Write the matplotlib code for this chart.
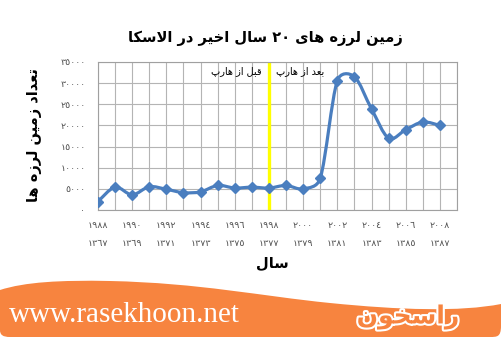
import re
import numpy as np
import matplotlib
matplotlib.use("Agg")
import matplotlib.pyplot as plt
from matplotlib.path import Path
from matplotlib.patches import PathPatch
import matplotlib.patheffects as pe

# data
years = list(range(1988, 2009))
quakes = [2000, 5400, 3600, 5500, 4900, 4100, 4300, 5800, 5200, 5400,
          5200, 5800, 5000, 7500, 30600, 31500, 23900, 17000, 19000, 20800, 20000]
harp_year = 1998
label_years = [1988, 1990, 1992, 1994, 1996, 1998, 2000, 2002, 2004, 2006, 2008]
solar_years = [1367, 1369, 1371, 1373, 1375, 1377, 1379, 1381, 1383, 1385, 1387]
y_ticks = [0, 5000, 10000, 15000, 20000, 25000, 30000, 35000]

title = "زمین لرزه های ۲۰ سال اخیر در الاسکا"
ylabel = "تعداد زمین لرزه ها"
xlabel = "سال"
before_txt = "قبل از هارپ"
after_txt = "بعد از هارپ"
logo_txt = "راسخون"
url_txt = "www.rasekhoon.net"

blue = '#4a7ebf'
orange = '#f7843f'

# matplotlib has no arabic shaping, so pick presentation forms by hand
FORMS = {
    'ا': ('\uFE8D', '\uFE8E', None, None),
    'ب': ('\uFE8F', '\uFE90', '\uFE91', '\uFE92'),
    'ت': ('\uFE95', '\uFE96', '\uFE97', '\uFE98'),
    'خ': ('\uFEA5', '\uFEA6', '\uFEA7', '\uFEA8'),
    'د': ('\uFEA9', '\uFEAA', None, None),
    'ر': ('\uFEAD', '\uFEAE', None, None),
    'ز': ('\uFEAF', '\uFEB0', None, None),
    'س': ('\uFEB1', '\uFEB2', '\uFEB3', '\uFEB4'),
    'ع': ('\uFEC9', '\uFECA', '\uFECB', '\uFECC'),
    'ق': ('\uFED5', '\uFED6', '\uFED7', '\uFED8'),
    'ل': ('\uFEDD', '\uFEDE', '\uFEDF', '\uFEE0'),
    'م': ('\uFEE1', '\uFEE2', '\uFEE3', '\uFEE4'),
    'ن': ('\uFEE5', '\uFEE6', '\uFEE7', '\uFEE8'),
    'ه': ('\uFEE9', '\uFEEA', '\uFEEB', '\uFEEC'),
    'و': ('\uFEED', '\uFEEE', None, None),
    'پ': ('\uFB56', '\uFB57', '\uFB58', '\uFB59'),
    'ک': ('\uFB8E', '\uFB8F', '\uFB90', '\uFB91'),
    'ی': ('\uFBFC', '\uFBFD', '\uFBFE', '\uFBFF'),
}


def shape(text):
    chars = []
    i = 0
    while i < len(text):
        if text[i] == 'ل' and i + 1 < len(text) and text[i + 1] == 'ا':
            chars.append('LA')
            i += 2
        else:
            chars.append(text[i])
            i += 1

    def dual(c):
        return c in FORMS and FORMS[c][2] is not None

    out = []
    for k, c in enumerate(chars):
        prev = chars[k - 1] if k > 0 else ''
        nxt = chars[k + 1] if k + 1 < len(chars) else ''
        jp = dual(prev)
        if c == 'LA':
            out.append('\uFEFC' if jp else '\uFEFB')
            continue
        if c not in FORMS:
            out.append(c)
            continue
        jn = dual(c) and (nxt in FORMS or nxt == 'LA')
        iso, fin, ini, med = FORMS[c]
        if jp and jn:
            out.append(med)
        elif jp:
            out.append(fin)
        elif jn:
            out.append(ini)
        else:
            out.append(iso)
    runs = re.findall(r'[0-9\u0660-\u0669\u06F0-\u06F9]+|.', ''.join(out))
    return ''.join(runs[::-1])


def ar_digits(n):
    return str(n).translate(str.maketrans('0123456789', '٠١٢٣٤٥٦٧٨٩'))


plt.rcParams['font.family'] = ['DejaVu Sans']

fig = plt.figure(figsize=(5.01, 3.37), dpi=100)
fig.patch.set_facecolor('white')

# background layer in pixel coords for the banner
bg = fig.add_axes([0, 0, 1, 1], zorder=-1)
bg.set_xlim(0, 501)
bg.set_ylim(337, 0)
bg.axis('off')

verts = [(0, 330), (0, 290),
         (25, 282), (60, 280), (110, 281),
         (200, 283), (260, 296), (330, 303),
         (400, 310), (460, 312), (501, 304),
         (501, 326),
         (501, 337), (497, 337), (490, 337),
         (10, 337),
         (3, 337), (0, 335), (0, 330)]
codes = [Path.MOVETO, Path.LINETO,
         Path.CURVE4, Path.CURVE4, Path.CURVE4,
         Path.CURVE4, Path.CURVE4, Path.CURVE4,
         Path.CURVE4, Path.CURVE4, Path.CURVE4,
         Path.LINETO,
         Path.CURVE4, Path.CURVE4, Path.CURVE4,
         Path.LINETO,
         Path.CURVE4, Path.CURVE4, Path.CURVE4]
bg.add_patch(PathPatch(Path(verts, codes), facecolor=orange, edgecolor='none'))

bg.text(9, 322, url_txt, color='white', fontsize=21, family='Liberation Serif',
        ha='left', va='baseline')
bg.text(408, 317, shape(logo_txt), color=orange, fontsize=18, fontweight='bold',
        ha='center', va='center',
        path_effects=[pe.withStroke(linewidth=3, foreground='white')])

# main chart
ax = fig.add_axes([98 / 501, 1 - 210 / 337, (457 - 98) / 501, 148 / 337])
ax.set_xlim(1988, 2009)
ax.set_ylim(0, 35000)

ax.set_xticks(range(1988, 2010))
xlabels = []
for yr in range(1988, 2010):
    if yr in label_years:
        j = label_years.index(yr)
        xlabels.append(ar_digits(yr) + '\n' + ar_digits(solar_years[j]))
    else:
        xlabels.append('')
ax.set_xticklabels(xlabels, fontsize=6.8, color='#505050', linespacing=2.3)
ax.set_yticks(y_ticks)
ax.set_yticklabels([ar_digits(v) for v in y_ticks], fontsize=6.8, color='#505050')
ax.tick_params(axis='both', length=0)
ax.tick_params(axis='y', pad=9)
ax.tick_params(axis='x', pad=8)

ax.grid(True, color='#b4b4b4', linewidth=0.8)
ax.set_axisbelow(True)
for sp in ax.spines.values():
    sp.set_color('#a0a0a0')
    sp.set_linewidth(0.8)

ax.axvline(harp_year, color='#ffff00', linewidth=2.4, zorder=2)
ax.text(harp_year - 0.4, 32900, shape(before_txt), ha='right', va='center', fontsize=7)
ax.text(harp_year + 0.4, 32900, shape(after_txt), ha='left', va='center', fontsize=7)

# smoothed line like excel: bezier with tangents clipped to half the segment
pts = ax.transData.transform(np.column_stack([years, quakes]))
n = len(pts)
inv = ax.transData.inverted()
verts = [tuple(inv.transform(pts[0]))]
codes = [Path.MOVETO]
for i in range(n - 1):
    p0 = pts[i - 1] if i > 0 else pts[i]
    p1 = pts[i]
    p2 = pts[i + 1]
    p3 = pts[i + 2] if i + 2 < n else pts[i + 1]
    half = np.hypot(*(p2 - p1)) / 2
    t1 = (p2 - p0) / 6
    t2 = (p3 - p1) / 6
    if np.hypot(*t1) > half:
        t1 = t1 * half / np.hypot(*t1)
    if np.hypot(*t2) > half:
        t2 = t2 * half / np.hypot(*t2)
    for p in (p1 + t1, p2 - t2, p2):
        verts.append(tuple(inv.transform(p)))
        codes.append(Path.CURVE4)
ax.add_patch(PathPatch(Path(verts, codes), fill=False, edgecolor=blue,
                       linewidth=2.3, capstyle='round', joinstyle='round', zorder=3))
ax.plot(years, quakes, linestyle='none', marker='D', markersize=5.5,
        color=blue, zorder=4)

ax.set_ylabel(shape(ylabel), fontsize=10.5, fontweight='bold')
ax.yaxis.set_label_coords(-0.156, 0.507)
ax.set_xlabel(shape(xlabel), fontsize=10.5, fontweight='bold')
ax.xaxis.set_label_coords(0.487, -0.304)
ax.set_title(shape(title), fontsize=10.5, fontweight='bold', va='center',
             x=0.465, y=1.162, pad=0)

fig.savefig('out.png', dpi=100)
